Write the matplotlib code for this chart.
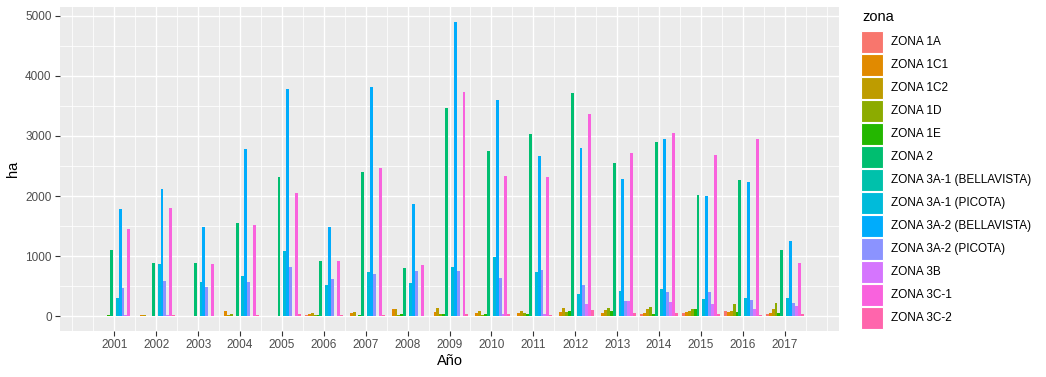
import numpy as np
import matplotlib
matplotlib.use("Agg")
import matplotlib.pyplot as plt
from matplotlib.patches import Rectangle

years = list(range(2001, 2018))
zones = ["ZONA 1A", "ZONA 1C1", "ZONA 1C2", "ZONA 1D", "ZONA 1E", "ZONA 2",
         "ZONA 3A-1 (BELLAVISTA)", "ZONA 3A-1 (PICOTA)", "ZONA 3A-2 (BELLAVISTA)",
         "ZONA 3A-2 (PICOTA)", "ZONA 3B", "ZONA 3C-1", "ZONA 3C-2"]
colors = ["#F8766D", "#E18A00", "#BE9C00", "#8CAB00", "#24B700", "#00BE70",
          "#00C1AB", "#00BBDA", "#00ACFC", "#8B93FF", "#D575FE", "#F962DD", "#FF65AC"]

# values per year, ordered as `zones`
ha_2001 = [0, 0, 0, 0, 17, 1100, 0, 300, 1783, 467, 17, 1450, 0]
ha_2002 = [0, 20, 20, 0, 0, 883, 0, 867, 2117, 583, 17, 1800, 17]
ha_2003 = [0, 0, 0, 0, 0, 883, 0, 567, 1483, 483, 0, 867, 0]
ha_2004 = [0, 83, 17, 33, 0, 1550, 0, 667, 2783, 567, 0, 1517, 17]
ha_2005 = [10, 10, 10, 10, 0, 2317, 0, 1083, 3783, 817, 0, 2050, 33]
ha_2006 = [17, 33, 50, 17, 17, 917, 0, 517, 1483, 617, 0, 917, 17]
ha_2007 = [10, 50, 67, 0, 17, 2400, 10, 733, 3817, 700, 0, 2467, 17]
ha_2008 = [10, 117, 117, 17, 33, 800, 10, 550, 1867, 750, 0, 850, 0]
ha_2009 = [10, 67, 133, 33, 33, 3467, 0, 817, 4900, 750, 0, 3733, 33]
ha_2010 = [10, 50, 83, 17, 33, 2750, 0, 983, 3600, 633, 33, 2333, 33]
ha_2011 = [10, 50, 83, 50, 33, 3033, 0, 733, 2667, 767, 33, 2317, 17]
ha_2012 = [10, 67, 133, 67, 83, 3717, 0, 367, 2800, 517, 200, 3367, 100]
ha_2013 = [10, 50, 100, 133, 83, 2550, 0, 417, 2283, 250, 250, 2717, 50]
ha_2014 = [33, 50, 117, 150, 33, 2900, 0, 450, 2950, 400, 233, 3050, 50]
ha_2015 = [50, 67, 83, 117, 117, 2017, 0, 283, 2000, 400, 200, 2683, 33]
ha_2016 = [83, 67, 83, 200, 67, 2267, 0, 300, 2233, 267, 117, 2950, 17]
ha_2017 = [33, 50, 117, 217, 50, 1100, 0, 300, 1250, 217, 167, 883, 33]

table = np.array([ha_2001, ha_2002, ha_2003, ha_2004, ha_2005, ha_2006, ha_2007,
                  ha_2008, ha_2009, ha_2010, ha_2011, ha_2012, ha_2013, ha_2014,
                  ha_2015, ha_2016, ha_2017], dtype=float)

plt.rcParams['font.family'] = ['Liberation Sans', 'DejaVu Sans']

W, H = 1046, 377
fig = plt.figure(figsize=(W / 100, H / 100), dpi=100)
L, R, T, B = 60, 839, 7, 331
ax = fig.add_axes([L / W, (H - B) / H, (R - L) / W, (B - T) / H])
ax.set_facecolor("#EBEBEB")
for s in ax.spines.values():
    s.set_visible(False)

n = len(zones)
yrs = np.array(years, dtype=float)
bw = 0.9 / n
for k in range(n):
    ax.bar(yrs - 0.45 + bw * (k + 0.5), table[:, k], width=bw, color=colors[k],
           linewidth=0, zorder=3)

ax.set_xlim(1999.705, 2018.295)
ax.set_ylim(-245, 5145)
ax.set_xticks(years)
ax.set_xticklabels([str(y) for y in years])
ax.set_xticks(np.arange(2000, 2018.01, 0.5), minor=True)
ax.set_yticks(np.arange(0, 5001, 1000))
ax.set_yticks(np.arange(500, 4501, 1000), minor=True)
ax.grid(which="major", color="white", linewidth=1.0, zorder=1)
ax.grid(which="minor", color="white", linewidth=0.55, zorder=1)
ax.set_axisbelow(True)
ax.tick_params(which="major", length=3.5, width=0.8, color="#333333",
               labelsize=8.45, labelcolor="#4D4D4D", pad=2.5)
ax.tick_params(which="minor", length=0)
ax.set_xlabel("Año", fontsize=10.5, labelpad=2)
ax.set_ylabel("ha", fontsize=10.5, labelpad=4)

# legend
fig.text(862 / W, 1 - 17 / H, "zona", fontsize=10.5, va="center", ha="left")
key_top = 31
step = 23.03
for i, (z, c) in enumerate(zip(zones, colors)):
    y0 = key_top + i * step
    fig.patches.append(Rectangle((861 / W, 1 - (y0 + 22) / H), 22 / W, 22 / H,
                                 transform=fig.transFigure, facecolor=c,
                                 edgecolor="white", linewidth=0.8))
    fig.text(891 / W, 1 - (y0 + 11) / H, z, fontsize=8.45, va="center", ha="left")

fig.savefig("out.png", dpi=100)
